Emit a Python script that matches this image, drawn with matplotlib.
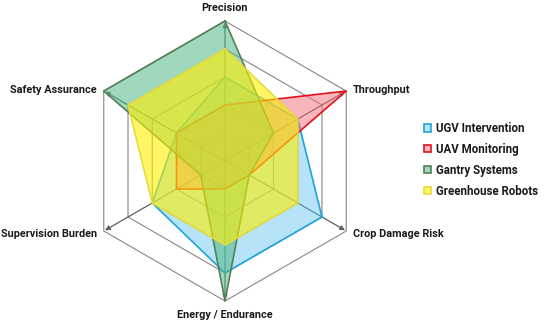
import numpy as np
import matplotlib.pyplot as plt
from matplotlib.patches import Patch
from matplotlib.colors import to_rgba

# axes, clockwise from the top
categories = ['Precision', 'Throughput', 'Crop Damage Risk',
              'Energy / Endurance', 'Supervision Burden', 'Safety Assurance']

# scores 0-5
ugv = [3, 3, 4, 4, 3, 2]
uav = [2, 5, 1, 1, 2, 2]
gantry = [5, 2, 1, 5, 1, 5]
greenhouse = [4, 3, 3, 3, 3, 4]

series_names = ['UGV Intervention', 'UAV Monitoring', 'Gantry Systems', 'Greenhouse Robots']
series_values = [ugv, uav, gantry, greenhouse]
fill_colors = ['#5ec3ee', '#f36d78', '#52b987', '#fff000']
fill_alpha = [0.45, 0.5, 0.55, 0.6]
edge_colors = ['#1ea4dc', '#e3121b', '#557f55', '#e8dc3a']

levels = [1, 2, 3, 4, 5]

plt.rcParams['font.family'] = ['Roboto', 'DejaVu Sans']

n = len(categories)
theta = np.pi / 2 - np.arange(n) * 2 * np.pi / n


def to_xy(vals):
    vals = np.asarray(vals, dtype=float)
    x = vals * np.cos(theta)
    y = vals * np.sin(theta)
    return np.append(x, x[0]), np.append(y, y[0])


fig = plt.figure(figsize=(5.5, 3.23), dpi=100)
ax = fig.add_axes([0, 0, 1, 1])
ax.set_xlim(-225 / 28, 325 / 28)
ax.set_ylim(-162 / 28, 161 / 28)
ax.axis('off')

# hexagon grid
for lv in levels:
    gx, gy = to_xy([lv] * n)
    ax.plot(gx, gy, color='#858585', lw=0.8, zorder=1)

# spokes with arrows
for t in theta:
    ax.annotate('', xy=(4.95 * np.cos(t), 4.95 * np.sin(t)), xytext=(0, 0),
                arrowprops=dict(arrowstyle='-|>', color='#5f5f5f', lw=0.9,
                                mutation_scale=7, shrinkA=0, shrinkB=0),
                zorder=1)

# series
for vals, fc, a, ec in zip(series_values, fill_colors, fill_alpha, edge_colors):
    px, py = to_xy(vals)
    ax.fill(px, py, color=fc, alpha=a, lw=0, zorder=2)
    ax.plot(px, py, color=ec, lw=1.2, zorder=2)

# axis labels
lab_r = 5.0
offsets = [(0, 9.5, 'center', 'center'), (5, 1, 'left', 'center'),
           (5, -2, 'left', 'center'), (0, -10, 'center', 'center'),
           (-5, -2, 'right', 'center'), (-5, 1, 'right', 'center')]
for cat, t, (dx, dy, ha, va) in zip(categories, theta, offsets):
    ax.annotate(cat, xy=(lab_r * np.cos(t), lab_r * np.sin(t)),
                xytext=(dx, dy), textcoords='offset points',
                ha=ha, va=va, fontsize=7.8, fontweight='bold', color='#1a1a1a')

handles = [Patch(facecolor=to_rgba(fc, a), edgecolor=ec, lw=1.2)
           for fc, a, ec in zip(fill_colors, fill_alpha, edge_colors)]
leg = fig.legend(handles, series_names, loc='upper left',
                 bbox_to_anchor=(424 / 550, 1 - 122 / 323), frameon=False,
                 borderpad=0, borderaxespad=0, handlelength=0.6,
                 handleheight=0.6, handletextpad=0.45, labelspacing=0.68,
                 prop={'family': ['Roboto', 'DejaVu Sans'], 'weight': 'bold', 'size': 8.3})
for t in leg.get_texts():
    t.set_color('#1a1a1a')

fig.savefig('out.png', dpi=100)
